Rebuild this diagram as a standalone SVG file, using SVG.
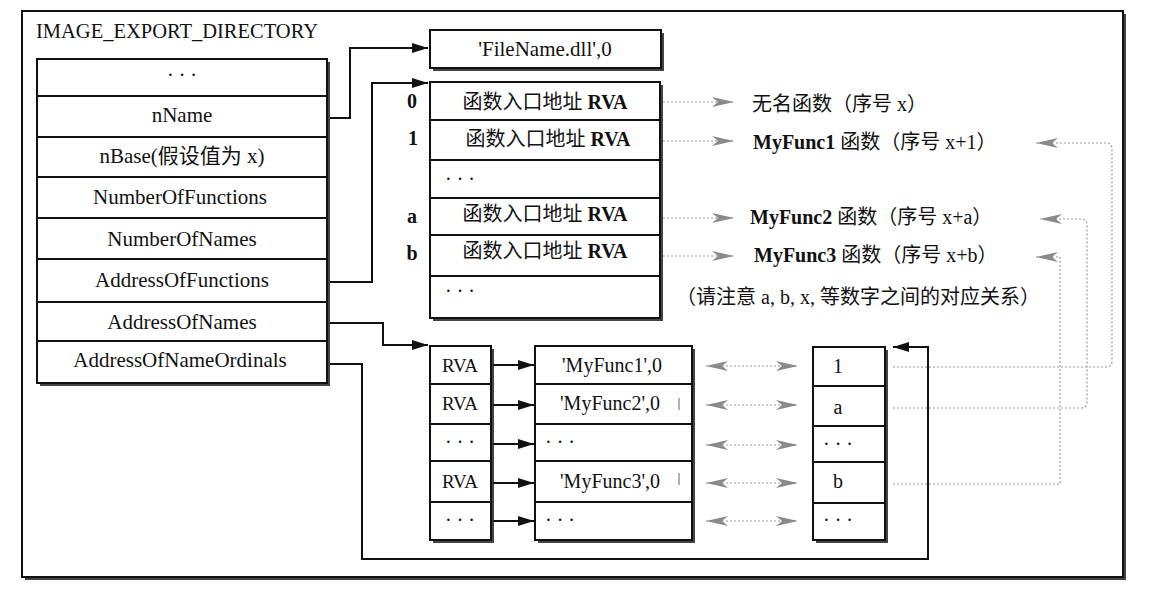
<svg xmlns="http://www.w3.org/2000/svg" width="1149" height="610" viewBox="0 0 1149 610">
<defs>
<style>
.t{font-family:"Liberation Serif","Noto Sans CJK SC",serif;font-size:20px;fill:#111;}
.l{font-size:21px;}
.c{text-anchor:middle;}
.b{font-weight:bold;}
.box{fill:#fff;stroke:#111;stroke-width:2;}
.sh{fill:#444;}
.div{stroke:#111;stroke-width:2;}
.con{fill:none;stroke:#111;stroke-width:2;}
.dot{fill:none;stroke:#999;stroke-width:1.2;stroke-dasharray:2 2;}
</style>
<marker id="ah" markerUnits="userSpaceOnUse" markerWidth="16" markerHeight="10" refX="16" refY="5" orient="auto">
<path d="M0,0 L16,5 L0,10 z" fill="#111"/>
</marker>
<marker id="gh" markerUnits="userSpaceOnUse" markerWidth="22" markerHeight="12" refX="22" refY="6" orient="auto-start-reverse">
<path d="M0,1 L22,6 L0,11 L6,6 z" fill="#8a8a8a"/>
</marker>
</defs>
<rect width="1149" height="610" fill="#fff"/>

<g id="frame">
<rect x="25" y="14" width="1101" height="566" class="sh"/>
<rect x="22" y="11" width="1101" height="566" fill="#fff" stroke="#111" stroke-width="2"/>
<text x="36" y="38" class="t" style="font-size:20.5px">IMAGE_EXPORT_DIRECTORY</text>
</g>

<g id="export-directory">
<rect x="40" y="62" width="290" height="324" class="sh"/>
<rect x="37" y="59" width="290" height="324" class="box"/>
<path class="div" d="M37 96H327M37 137H327M37 177H327M37 218H327M37 259H327M37 302H327M37 341H327"/>
<text x="182" y="82" class="t c">· · ·</text>
<text x="182" y="122" class="t l c">nName</text>
<text x="182" y="163" class="t l c">nBase(假设值为 x)</text>
<text x="180" y="204" class="t l c">NumberOfFunctions</text>
<text x="182" y="246" class="t l c">NumberOfNames</text>
<text x="182" y="287" class="t l c">AddressOfFunctions</text>
<text x="182" y="329" class="t l c">AddressOfNames</text>
<text x="180" y="367" class="t l c">AddressOfNameOrdinals</text>
</g>

<g id="filename">
<rect x="433" y="33" width="231" height="38" class="sh"/>
<rect x="430" y="30" width="231" height="38" class="box"/>
<text x="545" y="56" class="t c" style="font-size:21px">'FileName.dll',0</text>
</g>

<g id="functions">
<rect x="433" y="85" width="230" height="236" class="sh"/>
<rect x="430" y="82" width="230" height="236" class="box"/>
<path class="div" d="M430 120H660M430 160H660M430 198H660M430 235H660M430 276H660"/>
<text x="545" y="109" class="t c">函数入口地址 <tspan class="b">RVA</tspan></text>
<text x="548" y="146" class="t c">函数入口地址 <tspan class="b">RVA</tspan></text>
<text x="445" y="186" class="t">· · ·</text>
<text x="545" y="221" class="t c">函数入口地址 <tspan class="b">RVA</tspan></text>
<text x="545" y="258" class="t c">函数入口地址 <tspan class="b">RVA</tspan></text>
<text x="445" y="298" class="t">· · ·</text>
<text x="412" y="108" class="t c b">0</text>
<text x="413" y="145" class="t c b">1</text>
<text x="412" y="223" class="t c b">a</text>
<text x="412" y="260" class="t c b">b</text>
</g>

<g id="function-labels">
<text x="752" y="111" class="t">无名函数（序号 x）</text>
<text x="753" y="149" class="t"><tspan class="b">MyFunc1</tspan> 函数（序号 x+1）</text>
<text x="750" y="224" class="t"><tspan class="b">MyFunc2</tspan> 函数（序号 x+a）</text>
<text x="754" y="262" class="t"><tspan class="b">MyFunc3</tspan> 函数（序号 x+b）</text>
<text x="676" y="304" class="t">（请注意 a, b, x, 等数字之间的对应关系）</text>
</g>

<g id="name-rvas">
<rect x="433" y="349" width="61" height="194" class="sh"/>
<rect x="430" y="346" width="61" height="194" class="box"/>
<path class="div" d="M430 384H491M430 424H491M430 461H491M430 502H491"/>
<text x="460" y="372" class="t c" style="font-size:19px">RVA</text>
<text x="460" y="410" class="t c" style="font-size:19px">RVA</text>
<text x="460" y="449" class="t c">· · ·</text>
<text x="460" y="488" class="t c" style="font-size:19px">RVA</text>
<text x="460" y="527" class="t c">· · ·</text>
</g>

<g id="names">
<rect x="538" y="349" width="157" height="194" class="sh"/>
<rect x="535" y="346" width="157" height="194" class="box"/>
<path class="div" d="M535 384H692M535 424H692M535 461H692M535 502H692"/>
<text x="612" y="372" class="t c">'MyFunc1',0</text>
<text x="610" y="410" class="t c">'MyFunc2',0</text>
<text x="545" y="449" class="t">· · ·</text>
<text x="610" y="488" class="t c">'MyFunc3',0</text>
<text x="545" y="527" class="t">· · ·</text>
<path d="M679 398V410M679 473V485" stroke="#666" stroke-width="1"/>
</g>

<g id="ordinals">
<rect x="816" y="350" width="72" height="193" class="sh"/>
<rect x="813" y="347" width="72" height="193" class="box"/>
<path class="div" d="M813 386H885M813 426H885M813 462H885M813 503H885"/>
<text x="838" y="373" class="t c">1</text>
<text x="838" y="414" class="t c">a</text>
<text x="838" y="451" class="t c">· · ·</text>
<text x="838" y="488" class="t c">b</text>
<text x="838" y="527" class="t c">· · ·</text>
</g>

<g id="connectors">
<path class="con" d="M330 118H350V48H428" marker-end="url(#ah)"/>
<path class="con" d="M330 282H372V83H428" marker-end="url(#ah)"/>
<path class="con" d="M330 323H383V345H428" marker-end="url(#ah)"/>
<path class="con" d="M330 364H362V559H928V347H893" marker-end="url(#ah)"/>
<path class="con" d="M493 365H534" marker-end="url(#ah)"/>
<path class="con" d="M493 405H534" marker-end="url(#ah)"/>
<path class="con" d="M493 444H534" marker-end="url(#ah)"/>
<path class="con" d="M493 483H534" marker-end="url(#ah)"/>
<path class="con" d="M493 521H534" marker-end="url(#ah)"/>

<path class="dot" d="M663 102H734" marker-end="url(#gh)"/>
<path class="dot" d="M663 141H734" marker-end="url(#gh)"/>
<path class="dot" d="M663 218H734" marker-end="url(#gh)"/>
<path class="dot" d="M663 256H734" marker-end="url(#gh)"/>

<path class="dot" d="M706 366H798" marker-start="url(#gh)" marker-end="url(#gh)"/>
<path class="dot" d="M706 405H798" marker-start="url(#gh)" marker-end="url(#gh)"/>
<path class="dot" d="M706 445H798" marker-start="url(#gh)" marker-end="url(#gh)"/>
<path class="dot" d="M706 483H798" marker-start="url(#gh)" marker-end="url(#gh)"/>
<path class="dot" d="M706 521H798" marker-start="url(#gh)" marker-end="url(#gh)"/>

<path class="dot" d="M893 367H1106Q1112 367 1112 361V149Q1112 143 1106 143H1036" marker-end="url(#gh)"/>
<path class="dot" d="M893 408H1081Q1087 408 1087 402V225Q1087 219 1081 219H1040" marker-end="url(#gh)"/>
<path class="dot" d="M893 484H1060V257H1036" marker-end="url(#gh)"/>
</g>
</svg>
